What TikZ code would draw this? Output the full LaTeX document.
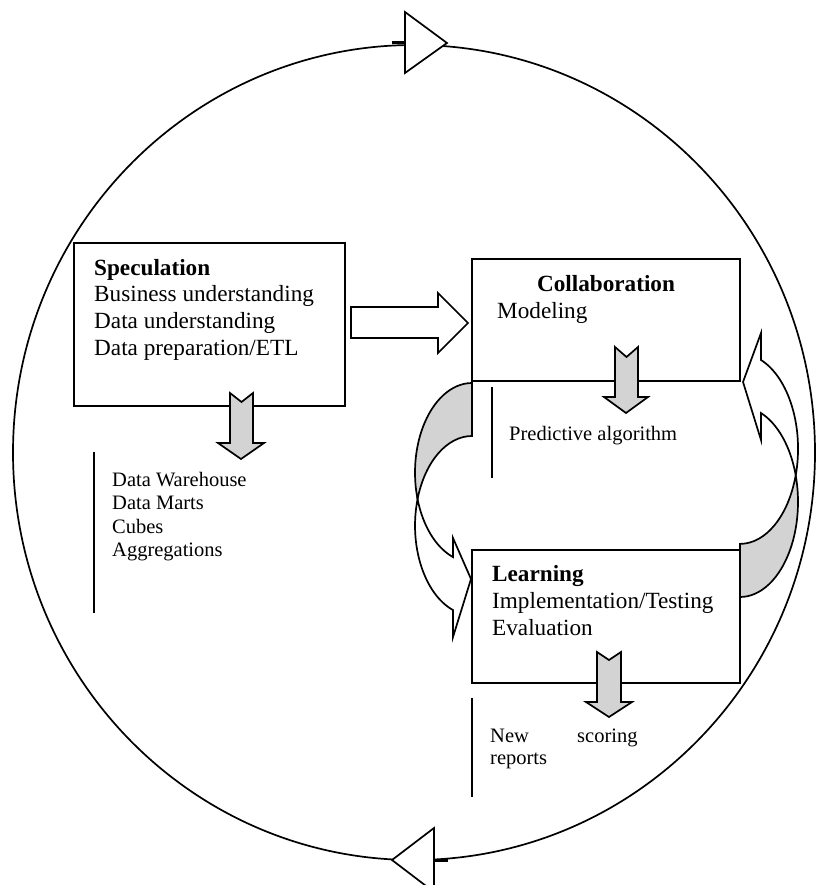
\documentclass[tikz,border=0pt]{standalone}
\usepackage{fontspec}
\setmainfont{Liberation Serif}
\definecolor{shadegray}{RGB}{211,211,211}
\tikzset{
  x=1pt, y=1pt,
  line/.style={line width=1.7pt, line join=miter},
  boxshape/.style={draw, line width=1.7pt, fill=white, rectangle, inner sep=0pt},
  bigtxt/.style={inner sep=0pt, anchor=base west, font=\fontsize{23.2}{26.8}\selectfont},
  smalltxt/.style={inner sep=0pt, anchor=base west, font=\fontsize{20.5}{23.6}\selectfont},
  grayarrow/.style={draw, line width=1.7pt, fill=shadegray, line join=miter},
  whitearrow/.style={draw, line width=1.7pt, fill=white, line join=miter},
  ellipsebits/.style={x radius=57, y radius=89.6},
  ellipsebitsr/.style={x radius=58, y radius=95.2},
}
\begin{document}
\begin{tikzpicture}
\useasboundingbox (0,0) rectangle (821,-885);
\clip (0,0) rectangle (821,-885);
% outer cycle
\draw[line] (414,-452.5) ellipse [x radius=401, y radius=407.5];
% cycle arrowheads
\draw[line width=3pt] (392,-43) -- (405,-43);
\draw[whitearrow] (405,-12) -- (447,-43) -- (405,-73) -- cycle;
\draw[line width=3pt] (434,-860) -- (448,-860);
\draw[whitearrow] (434,-828) -- (392,-860) -- (434,-892) -- cycle;

% boxes
\node[boxshape, minimum width=271pt, minimum height=163pt] (spec) at (209.5,-324.5) {};
\node[boxshape, minimum width=268pt, minimum height=122pt] (collab) at (606,-320) {};
\node[boxshape, minimum width=268pt, minimum height=133pt] (learn) at (606,-616.5) {};

% Speculation text
\node[bigtxt] (s1) at (94,-275) {\textbf{Speculation}};
\node[bigtxt] (s2) at (94,-301.8) {Business understanding};
\node[bigtxt] (s3) at (94,-328.6) {Data understanding};
\node[bigtxt] (s4) at (94,-355.4) {Data preparation/ETL};
% Collaboration text
\node[bigtxt, anchor=base] (c1) at (606,-291.7) {\textbf{Collaboration}};
\node[bigtxt] (c2) at (497,-318.3) {Modeling};
% Learning text
\node[bigtxt] (l1) at (492,-581.7) {\textbf{Learning}};
\node[bigtxt] (l2) at (492,-608.3) {Implementation/Testing};
\node[bigtxt] (l3) at (492,-635) {Evaluation};

% output lists
\coordinate (v1a) at (94,-452); \coordinate (v1b) at (94,-613);
\draw[line] (v1a) -- (v1b);
\node[smalltxt] (d1) at (112,-486) {Data Warehouse};
\node[smalltxt] (d2) at (112,-509.6) {Data Marts};
\node[smalltxt] (d3) at (112,-533.2) {Cubes};
\node[smalltxt] (d4) at (112,-556.8) {Aggregations};

\coordinate (v2a) at (492,-387); \coordinate (v2b) at (492,-478);
\draw[line] (v2a) -- (v2b);
\node[smalltxt] (p1) at (509,-440) {Predictive algorithm};

\coordinate (v3a) at (472,-698); \coordinate (v3b) at (472,-797);
\draw[line] (v3a) -- (v3b);
\node[smalltxt] (n1) at (490,-742) {New};
\node[smalltxt] (n2) at (490,-764.5) {reports};
\node[smalltxt] (n3) at (577,-742) {scoring};

% block arrow speculation -> collaboration
\draw[whitearrow] (351,-307) -- (438,-307) -- (438,-293) -- (468,-323) -- (438,-353) -- (438,-338) -- (351,-338) -- cycle;

% notched down arrows
\draw[grayarrow] (230,-393) -- (241.5,-402) -- (253,-393) -- (253,-443) -- (264,-443) -- (241,-459) -- (218,-443) -- (230,-443) -- cycle;
\draw[grayarrow] (615,-347) -- (626.5,-357) -- (638,-347) -- (638,-397) -- (648,-397) -- (626,-413) -- (604,-397) -- (615,-397) -- cycle;
\draw[grayarrow] (597,-652) -- (609,-660) -- (621,-652) -- (621,-702) -- (632,-702) -- (609,-717) -- (586,-702) -- (597,-702) -- cycle;

% left curved arrow (collaboration -> learning)
\draw[grayarrow] (472,-383) arc[start angle=90, end angle=197.2, ellipsebits]
  arc[start angle=162.8, end angle=90, ellipsebits] -- cycle;
\draw[whitearrow] (417.55,-499.1) arc[start angle=197.2, end angle=250.5, ellipsebits]
  -- (453,-538) -- (471,-579) -- (453,-637) -- (453,-610.07)
  arc[start angle=250.5, end angle=162.8, ellipsebits] -- cycle;

% right curved arrow (learning -> collaboration)
\draw[grayarrow] (740,-597) arc[start angle=-90, end angle=16.2, ellipsebitsr]
  arc[start angle=-16.2, end angle=-90, ellipsebitsr] -- cycle;
\draw[whitearrow] (795.7,-475.24) arc[start angle=16.2, end angle=68.8, ellipsebitsr]
  -- (761,-440) -- (743,-382) -- (761,-333) -- (761,-360)
  arc[start angle=68.8, end angle=-16.2, ellipsebitsr] -- cycle;
\end{tikzpicture}
\end{document}
